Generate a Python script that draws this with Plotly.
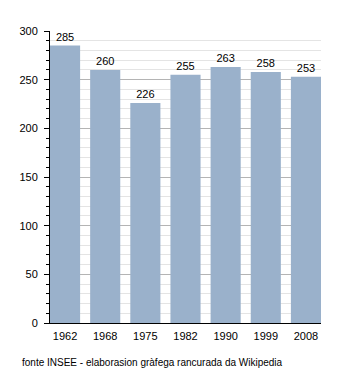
import plotly.graph_objects as go

years = ["1962", "1968", "1975", "1982", "1990", "1999", "2008"]
population = [285, 260, 226, 255, 263, 258, 253]
y_ticks = [0, 50, 100, 150, 200, 250, 300]
source_text = "fonte INSEE - elaborasion gràfega rancurada da Wikipedia"

xpos = list(range(len(years)))
bw = 0.75

fig = go.Figure(go.Bar(
    x=xpos, y=population, width=bw,
    marker=dict(color="#9ab1cb", line=dict(width=0)),
    text=[str(v) for v in population], textposition="outside",
    textfont=dict(family="Liberation Sans, Arial", size=11, color="#000"),
    cliponaxis=False,
))

fig.update_layout(
    width=350, height=373,
    margin=dict(l=50, r=29, t=31, b=50),
    plot_bgcolor="white", paper_bgcolor="white",
    showlegend=False,
    font=dict(family="Liberation Sans, Arial", size=11, color="#000"),
    xaxis=dict(
        tickmode="array", tickvals=xpos, ticktext=years,
        range=[-bw / 2, len(years) - 1 + bw / 2],
        showgrid=False, showline=True, linecolor="#000", linewidth=1,
        ticks="outside", ticklen=3, tickcolor="rgba(0,0,0,0)",
        zeroline=False, fixedrange=True,
    ),
    yaxis=dict(
        range=[0, 300], tickmode="array", tickvals=y_ticks,
        showgrid=True, gridcolor="#b4b4b4", gridwidth=1,
        showline=True, linecolor="#000", linewidth=1,
        ticks="outside", ticklen=5, tickcolor="#000",
        zeroline=False,
        minor=dict(dtick=10, showgrid=True, gridcolor="#e4e4e4",
                   ticks="outside", ticklen=3, tickcolor="#000"),
        ticklabelstandoff=4,
    ),
    bargap=0.25,
)

fig.add_annotation(
    text=source_text, xref="paper", yref="paper",
    x=-30 / 271, y=-39 / 292, xanchor="left", yanchor="middle",
    showarrow=False, font=dict(family="Liberation Sans, Arial", size=10, color="#000"),
)

fig.write_html("out.html")
